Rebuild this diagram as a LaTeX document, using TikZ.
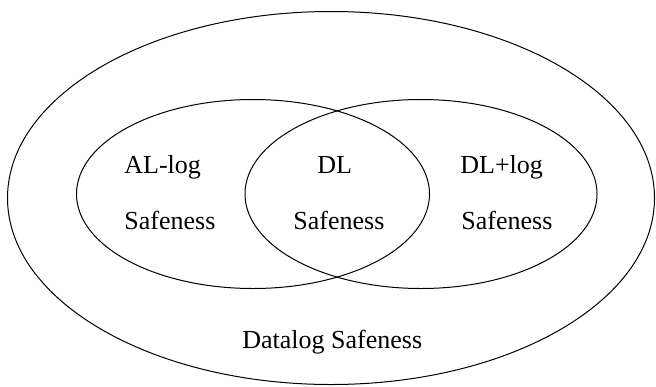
\documentclass[tikz,border=0pt]{standalone}
\usepackage{fontspec}
\setmainfont{Liberation Serif}
\usetikzlibrary{shapes.geometric}

\begin{document}
\begin{tikzpicture}[
    x=0.5pt, y=-0.5pt,
    region/.style={draw, ellipse, line width=0.5pt, inner sep=0pt},
    tag/.style={font=\fontsize{13}{15}\selectfont, inner sep=0pt, anchor=base west}
]
\useasboundingbox (0,0) rectangle (656,386);

% Sets
\node[region, minimum width=323.5pt, minimum height=186.5pt] (datalog) at (331,198) {};
\node[region, minimum width=176.5pt, minimum height=94.5pt] (allog) at (253,194) {};
\node[region, minimum width=176pt, minimum height=94.5pt] (dllog) at (421,194) {};

% Labels
\node[tag] (allogname) at (124,173) {AL-log};
\node[tag] (allogsafe) at (124,229) {Safeness};
\node[tag] (dlname) at (317,173) {DL};
\node[tag] (dlsafe) at (293,229) {Safeness};
\node[tag] (dllogname) at (460,173) {DL+log};
\node[tag] (dllogsafe) at (461,229) {Safeness};
\node[tag] (datalogsafe) at (242,348) {Datalog Safeness};

\end{tikzpicture}
\end{document}
